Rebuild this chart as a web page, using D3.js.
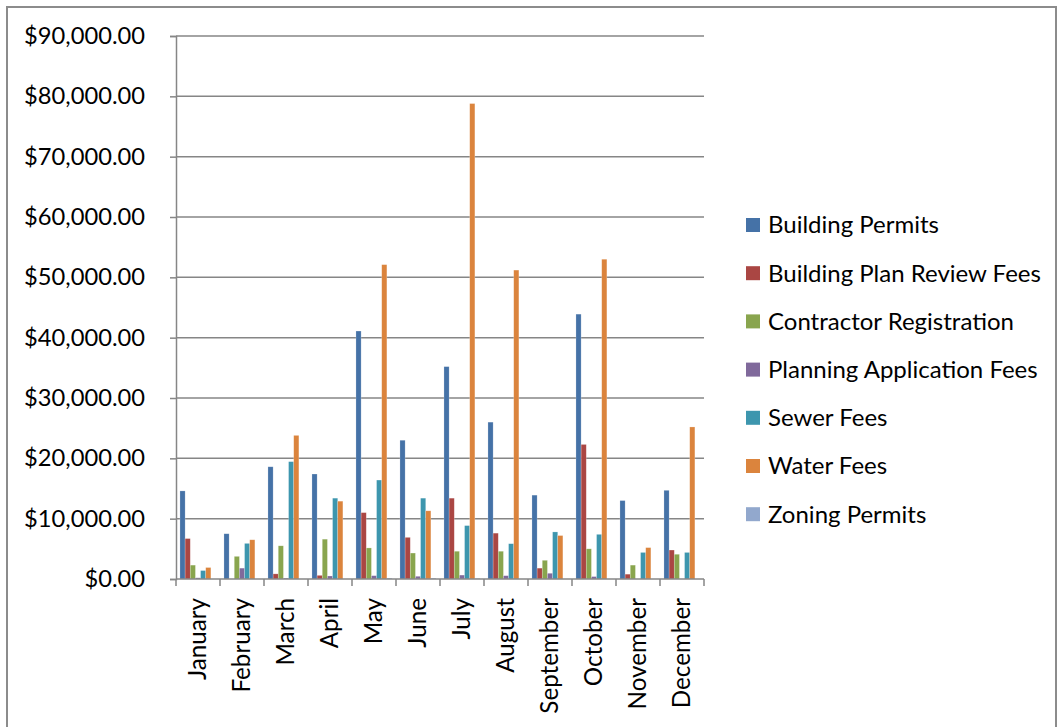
<!DOCTYPE html>
<html>
<head>
<meta charset="utf-8">
<script src="https://cdn.jsdelivr.net/npm/d3@7"></script>
<style>
  html, body { margin: 0; padding: 0; background: #fff; }
  svg { display: block; }
  text { font-family: Lato, "Open Sans", sans-serif; fill: #000; }
</style>
</head>
<body>
<svg id="chart" width="1062" height="727"></svg>
<script>
// Monthly fee revenue by category
const months = ["January", "February", "March", "April", "May", "June",
                "July", "August", "September", "October", "November", "December"];

const seriesNames = ["Building Permits", "Building Plan Review Fees", "Contractor Registration",
                     "Planning Application Fees", "Sewer Fees", "Water Fees", "Zoning Permits"];

const buildingPermits      = [14600, 7500, 18600, 17400, 41100, 23000, 35200, 26000, 13900, 43900, 13000, 14700];
const buildingPlanReview   = [6700, 0, 850, 600, 11000, 6900, 13400, 7600, 1800, 22300, 800, 4800];
const contractorRegistr    = [2300, 3750, 5500, 6600, 5150, 4300, 4600, 4600, 3100, 5000, 2300, 4100];
const planningApplication  = [200, 1800, 150, 500, 550, 450, 650, 550, 950, 400, 0, 0];
const sewerFees            = [1400, 5900, 19450, 13400, 16400, 13400, 8850, 5850, 7800, 7400, 4400, 4400];
const waterFees            = [1900, 6500, 23800, 12900, 52100, 11300, 78800, 51200, 7200, 53000, 5200, 25200];
const zoningPermits        = [0, 0, 0, 0, 150, 150, 100, 0, 0, 0, 0, 0];

const yTicks = [0, 10000, 20000, 30000, 40000, 50000, 60000, 70000, 80000, 90000];

const colors = ["#4572A7", "#AA4643", "#89A54E", "#80699B", "#3D96AE", "#DB843D", "#92A8CD"];

const seriesValues = [buildingPermits, buildingPlanReview, contractorRegistr,
                      planningApplication, sewerFees, waterFees, zoningPermits];

const svg = d3.select("#chart");
const gridColor = "#868686";

// outer frame
svg.append("rect")
  .attr("x", 7).attr("y", 7)
  .attr("width", 1049).attr("height", 730)
  .attr("fill", "none").attr("stroke", "#8c8c8c").attr("stroke-width", 2);

const plot = { left: 176, right: 704, top: 36, bottom: 579 };

const y = d3.scaleLinear().domain([0, 90000]).range([plot.bottom, plot.top]);
const x0 = d3.scaleBand().domain(months).range([plot.left, plot.right])
  .paddingInner(0.18).paddingOuter(0.09);
const x1 = d3.scaleBand().domain(seriesNames).range([0, x0.bandwidth()]);

// horizontal gridlines
svg.append("g").selectAll("line").data(yTicks.filter(d => d > 0)).join("line")
  .attr("x1", plot.left).attr("x2", plot.right)
  .attr("y1", d => y(d)).attr("y2", d => y(d))
  .attr("stroke", gridColor).attr("stroke-width", 1.5);

// bars
const rows = months.map((m, i) => ({ month: m, values: seriesNames.map((s, k) => ({ s, k, v: seriesValues[k][i] })) }));
const groups = svg.append("g").selectAll("g").data(rows).join("g")
  .attr("transform", d => `translate(${x0(d.month)},0)`);
groups.selectAll("rect").data(d => d.values).join("rect")
  .attr("x", d => x1(d.s))
  .attr("width", x1.bandwidth())
  .attr("y", d => y(d.v))
  .attr("height", d => y(0) - y(d.v))
  .attr("fill", d => colors[d.k])
  .attr("stroke", "rgba(255,255,255,0.35)")
  .attr("stroke-width", 0.6);

// y axis
const yAxis = d3.axisLeft(y).tickValues(yTicks).tickFormat(d3.format("$,.2f"))
  .tickSize(6).tickPadding(25);
const yg = svg.append("g").attr("transform", `translate(${plot.left},0)`).call(yAxis);
yg.select(".domain").attr("stroke", gridColor).attr("stroke-width", 1.5);
yg.selectAll(".tick line").attr("stroke", gridColor).attr("stroke-width", 1.5);
yg.selectAll(".tick text").attr("font-size", 23.7).attr("font-family", "Lato, 'Open Sans', sans-serif");

// x axis
const xTickPos = d3.range(13).map(i => plot.left + i * x0.step());
const xg = svg.append("g");
xg.append("line").attr("x1", plot.left).attr("x2", plot.right)
  .attr("y1", plot.bottom).attr("y2", plot.bottom)
  .attr("stroke", gridColor).attr("stroke-width", 1.5);
xg.selectAll("line.tk").data(xTickPos).join("line").attr("class", "tk")
  .attr("x1", d => d).attr("x2", d => d)
  .attr("y1", plot.bottom).attr("y2", plot.bottom + 7)
  .attr("stroke", gridColor).attr("stroke-width", 1.5);
xg.selectAll("text").data(months).join("text")
  .attr("transform", d => `translate(${x0(d) + x0.bandwidth() / 2},598) rotate(-90)`)
  .attr("text-anchor", "end")
  .attr("dy", "0.35em")
  .attr("font-size", 24.2)
  .text(d => d);

// legend
const legend = svg.append("g").selectAll("g").data(seriesNames).join("g")
  .attr("transform", (d, i) => `translate(746,${225 + i * 48.2})`);
legend.append("rect")
  .attr("x", 0).attr("y", -7).attr("width", 14).attr("height", 14)
  .attr("fill", (d, i) => colors[i]);
legend.append("text")
  .attr("x", 22).attr("dy", "0.35em")
  .attr("font-size", 24)
  .text(d => d);
</script>
</body>
</html>
